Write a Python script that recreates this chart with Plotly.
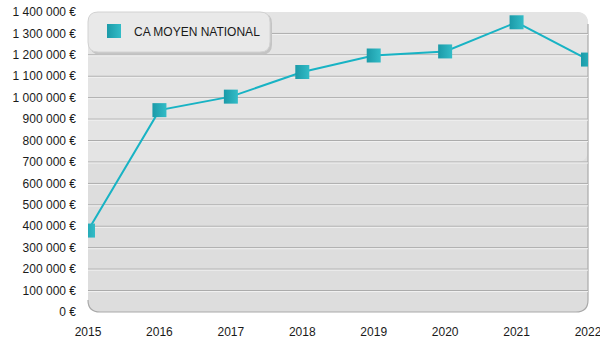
import plotly.graph_objects as go

# Average national turnover per year
years = [2015, 2016, 2017, 2018, 2019, 2020, 2021, 2022]
ca_moyen = [380000, 942000, 1005000, 1120000, 1197000, 1216000, 1352000, 1178000]
series_name = "CA MOYEN NATIONAL"

y_ticks = [0, 100000, 200000, 300000, 400000, 500000, 600000, 700000,
           800000, 900000, 1000000, 1100000, 1200000, 1300000, 1400000]
y_tick_labels = ["0 €", "100 000 €", "200 000 €", "300 000 €", "400 000 €",
                 "500 000 €", "600 000 €", "700 000 €", "800 000 €", "900 000 €",
                 "1 000 000 €", "1 100 000 €", "1 200 000 €", "1 300 000 €",
                 "1 400 000 €"]

W, H = 600, 350
M = dict(l=88, r=12, t=12, b=38)
pw, ph = W - M["l"] - M["r"], H - M["t"] - M["b"]


def rounded_rect(x0, y0, x1, y1, rpx):
    """SVG path of a rounded rectangle in paper coordinates."""
    rx, ry = rpx / pw, rpx / ph
    return (f"M {x0+rx},{y0} L {x1-rx},{y0} Q {x1},{y0} {x1},{y0+ry} "
            f"L {x1},{y1-ry} Q {x1},{y1} {x1-rx},{y1} L {x0+rx},{y1} "
            f"Q {x0},{y1} {x0},{y1-ry} L {x0},{y0+ry} Q {x0},{y0} {x0+rx},{y0} Z")


rx, ry = 12 / pw, 12 / ph
shapes = [
    # plot panel, slightly lighter towards the top
    dict(type="path", xref="paper", yref="paper", layer="below",
         path=rounded_rect(0, 0, 1, 1, 12), fillcolor="#dddddd", line=dict(width=0)),
    dict(type="path", xref="paper", yref="paper", layer="below",
         path=rounded_rect(0, 0.5, 1, 1, 12).replace(
             f"L 1,{0.5 + ry}", "L 1,0.5").replace(f"L 0,{0.5 + ry}", "L 0,0.5"),
         fillcolor="#e4e4e4", line=dict(width=0)),
    # darker right / bottom edge
    dict(type="path", xref="paper", yref="paper", layer="below",
         path=(f"M 1,{1-ry} L 1,{ry} Q 1,0 {1-rx},0 L {rx},0 Q 0,0 0,{ry}"),
         fillcolor="rgba(0,0,0,0)", line=dict(color="#a9a9a9", width=1.2)),
]
# embossed horizontal grid lines
for v in y_ticks[1:-1]:
    shapes.append(dict(type="line", xref="paper", yref="y", layer="below",
                       x0=0, x1=1, y0=v, y1=v, line=dict(color="#a8a8a8", width=1)))
    shapes.append(dict(type="line", xref="paper", yref="y", layer="below",
                       ysizemode="pixel", yanchor=v, x0=0, x1=1, y0=-1, y1=-1,
                       line=dict(color="#f2f2f2", width=1)))
# legend box with soft shadow
lw, lh = 182 / pw, 40 / ph
shapes.append(dict(type="path", xref="paper", yref="paper", layer="between",
                   path=rounded_rect(0.004, 1 - lh - 0.008, lw + 0.004, 1 - 0.004, 10),
                   fillcolor="#c4c4c4", line=dict(width=0)))
shapes.append(dict(type="path", xref="paper", yref="paper", layer="between",
                   path=rounded_rect(0, 1 - lh, lw, 1, 10),
                   fillcolor="#e9e9e9", line=dict(color="#d2d2d2", width=1)))

fig = go.Figure()
# connecting line
fig.add_trace(go.Scatter(
    x=years, y=ca_moyen, name=series_name, mode="lines", showlegend=False,
    line=dict(color="#18b3c4", width=2), cliponaxis=True, hoverinfo="skip",
))
# square markers (also the legend entry)
fig.add_trace(go.Scatter(
    x=years, y=ca_moyen, name=series_name, mode="markers",
    marker=dict(symbol="square", size=14, color="#1b9aa8",
                gradient=dict(type="horizontal", color="#33bcc7"),
                line=dict(width=0)),
    cliponaxis=True,
))

fig.update_layout(
    width=W, height=H, margin=M,
    paper_bgcolor="white", plot_bgcolor="rgba(0,0,0,0)",
    font=dict(family="Liberation Sans, Arial, sans-serif", size=12, color="#1a1a1a"),
    shapes=shapes,
    showlegend=True,
    legend=dict(x=0.012, y=0.985, xanchor="left", yanchor="top",
                bgcolor="rgba(0,0,0,0)", borderwidth=0,
                font=dict(size=12, color="#1a1a1a"), itemsizing="trace"),
    xaxis=dict(range=[2015, 2022], tickvals=years, ticktext=[str(y) for y in years],
               showgrid=False, zeroline=False, showline=False, ticks="",
               ticklabelstandoff=11, ticklabeloverflow="allow",
               automargin=False, fixedrange=True),
    yaxis=dict(range=[0, 1400000], tickvals=y_ticks, ticktext=y_tick_labels,
               showgrid=False, zeroline=False, showline=False, ticks="",
               ticklabelstandoff=11, ticklabeloverflow="allow",
               automargin=False, fixedrange=True),
)

fig.write_html("out.html", config={"displayModeBar": False})
